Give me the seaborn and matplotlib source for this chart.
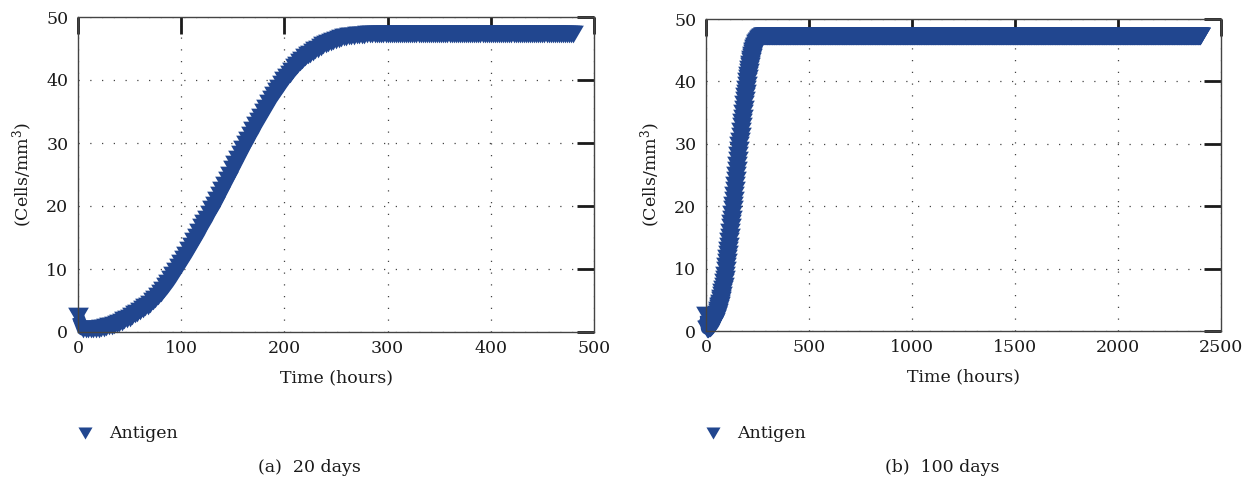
import matplotlib
matplotlib.use("Agg")
import matplotlib.pyplot as plt
from matplotlib.path import Path
import pandas as pd
import seaborn as sns

# Antigen concentration (cells/mm^3) during the growth phase
rise_hours = [0, 5, 7.5, 10, 12.5, 15, 17.5, 20, 22.5, 25,
              27.5, 30, 32.5, 35, 37.5, 40, 42.5, 45, 47.5, 50,
              52.5, 55, 57.5, 60, 62.5, 65, 67.5, 70, 72.5, 75,
              77.5, 80, 82.5, 85, 87.5, 90, 92.5, 95, 97.5, 100,
              102.5, 105, 107.5, 110, 112.5, 115, 117.5, 120, 122.5, 125,
              127.5, 130, 132.5, 135, 137.5, 140, 142.5, 145, 147.5, 150,
              152.5, 155, 157.5, 160, 162.5, 165, 167.5, 170, 172.5, 175,
              177.5, 180, 182.5, 185, 187.5, 190, 192.5, 195, 197.5, 200,
              202.5, 205, 207.5, 210, 212.5, 215, 217.5, 220, 222.5, 225,
              227.5, 230, 232.5, 235, 237.5, 240, 242.5, 245, 247.5, 250,
              252.5, 255, 257.5, 260, 262.5, 265, 267.5, 270, 272.5, 275,
              277.5, 280, 282.5, 285, 287.5, 290]
rise_antigen = [2.5, 0.4, 0.4, 0.4, 0.42, 0.45, 0.5, 0.55, 0.62, 0.7,
                0.8, 0.9, 1.02, 1.15, 1.3, 1.45, 1.65, 1.85, 2.05, 2.3,
                2.55, 2.8, 3.05, 3.35, 3.65, 3.95, 4.2, 4.5, 4.9, 5.3,
                5.75, 6.2, 6.7, 7.25, 7.8, 8.4, 9.05, 9.7, 10.35, 11.0,
                11.65, 12.3, 13.0, 13.7, 14.4, 15.1, 15.8, 16.6, 17.3, 18.0,
                18.8, 19.5, 20.2, 21.0, 21.8, 22.6, 23.4, 24.2, 25.0, 25.8,
                26.6, 27.4, 28.2, 29.0, 29.8, 30.5, 31.3, 32.0, 32.8, 33.5,
                34.2, 34.9, 35.6, 36.3, 37.0, 37.6, 38.2, 38.8, 39.4, 40.0,
                40.5, 41.0, 41.5, 42.0, 42.4, 42.8, 43.2, 43.6, 43.9, 44.2,
                44.5, 44.8, 45.0, 45.3, 45.5, 45.7, 45.9, 46.1, 46.25, 46.4,
                46.5, 46.65, 46.75, 46.85, 46.95, 47.0, 47.05, 47.1, 47.15, 47.2,
                47.22, 47.25, 47.27, 47.28, 47.29, 47.3]

# Saturation level held for the rest of the simulation
plateau_level = 47.3
plateau_hours = list(range(292, 2401, 2))

# Panel settings: simulated horizon, x-axis range and ticks, caption
panel_days = [20, 100]
panel_xmax = [500, 2500]
panel_xticks = [[0, 100, 200, 300, 400, 500],
                [0, 500, 1000, 1500, 2000, 2500]]
panel_captions = ["(a)  20 days", "(b)  100 days"]
y_ticks = [0, 10, 20, 30, 40, 50]

series_label = "Antigen"
x_label = "Time (hours)"
y_label = "(Cells/mm$^{3}$)"

antigen_color = "#21468f"
text_color = "#1a1a1a"

df = pd.DataFrame({
    "hours": rise_hours + plateau_hours,
    "antigen": rise_antigen + [plateau_level] * len(plateau_hours),
})

# Downward triangle, a little wider than tall
tri_down = Path([(-1.17, 1.0), (1.17, 1.0), (0.0, -1.0), (-1.17, 1.0)],
                [Path.MOVETO, Path.LINETO, Path.LINETO, Path.CLOSEPOLY])

sns.set_theme(style="white")
plt.rcParams["font.family"] = ["DejaVu Serif", "Liberation Serif"]
plt.rcParams["mathtext.fontset"] = "custom"
plt.rcParams["mathtext.rm"] = "DejaVu Serif"
plt.rcParams["mathtext.it"] = "DejaVu Serif:italic"
plt.rcParams["mathtext.bf"] = "DejaVu Serif:bold"

FS = 12.5

fig = plt.figure(figsize=(12.5, 4.87), dpi=100)
axes_rects = [
    [78 / 1250, 1 - 332 / 487, (594 - 78) / 1250, (332 - 17) / 487],
    [706 / 1250, 1 - 331 / 487, (1221 - 706) / 1250, (331 - 19) / 487],
]
legend_left = [76.3 / 1250, 704.3 / 1250]
caption_x = [309 / 1250, 942 / 1250]

for i, rect in enumerate(axes_rects):
    ax = fig.add_axes(rect)
    horizon = panel_days[i] * 24
    sub = df[df["hours"] <= horizon]

    sns.lineplot(data=sub, x="hours", y="antigen", ax=ax, color=antigen_color,
                 linewidth=9, legend=False, zorder=3, solid_capstyle="butt")
    sns.scatterplot(data=sub, x="hours", y="antigen", ax=ax, color=antigen_color,
                    marker=tri_down, s=14.9 ** 2, linewidth=0, label=series_label,
                    zorder=4, clip_on=False)
    for ln in ax.lines:
        ln.set_clip_on(False)

    ax.set_xlim(0, panel_xmax[i])
    ax.set_ylim(0, 50)
    ax.set_xticks(panel_xticks[i])
    ax.set_yticks(y_ticks)
    ax.set_axisbelow(True)
    ax.grid(True, color="#444444", linestyle=(0, (1, 8.4)), linewidth=0.9)

    for sp in ax.spines.values():
        sp.set_visible(True)
        sp.set_color("#444444")
        sp.set_linewidth(1.0)
        sp.set_zorder(5)

    ax.tick_params(axis="both", which="major", direction="in", length=12,
                   width=2.0, color=text_color, top=True, right=True,
                   labelsize=FS, labelcolor=text_color)
    ax.tick_params(axis="x", pad=6)
    ax.tick_params(axis="y", pad=7)

    ax.set_xlabel(x_label, fontsize=FS, color=text_color, labelpad=9)
    ax.set_ylabel(y_label, fontsize=FS, color=text_color, labelpad=8)

    leg = ax.legend(loc="center left",
                    bbox_to_anchor=(legend_left[i], 1 - 433 / 487),
                    bbox_transform=fig.transFigure, frameon=False,
                    fontsize=FS, handlelength=1.0, handletextpad=0.88,
                    borderpad=0, borderaxespad=0, markerscale=0.68)
    for t in leg.get_texts():
        t.set_color(text_color)

    fig.text(caption_x[i], 1 - 467 / 487, panel_captions[i], ha="center",
             va="center", fontsize=FS, color=text_color)

fig.savefig("out.png", dpi=100)
